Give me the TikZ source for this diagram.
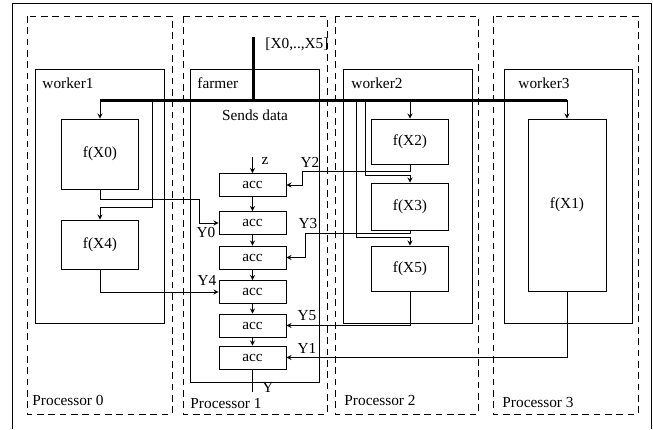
\documentclass[tikz,border=0pt]{standalone}
\usepackage{fontspec}
\setmainfont{Liberation Serif}
\usetikzlibrary{arrows.meta}
\tikzset{>=stealth}

\begin{document}
\begin{tikzpicture}[x=0.75pt,y=-0.75pt,line width=0.7pt,font=\fontsize{11.5}{14}\selectfont,
	proc/.style={dash pattern=on 5pt off 3.5pt,line width=0.6pt},
	fbox/.style={draw,minimum width=57.75pt,inner sep=0pt},
	accbox/.style={draw,minimum width=50.25pt,minimum height=17.25pt,inner sep=0pt},
	bus/.style={line width=2.25pt},
	lbl/.style={anchor=base west,inner sep=0pt}]
		\useasboundingbox (0,0) rectangle (653,429);
		\draw (12,429)--(12,3)--(651,3)--(651,429);
		\foreach \a/\b/\l/\y/\n in {27/172/32/405/0,183/327/190/408/1,335/478/344/405/2,493/638/502/407/3}
		{
			\draw[proc] (\a,16) rectangle (\b,414);
			\node[lbl] (p\n) at (\l,\y) {Processor \n};
		}
		\draw (35,69) rectangle (164,323);
		\draw (190,69) rectangle (319,382);
		\draw (343,69) rectangle (472,323);
		\draw (504,69) rectangle (632,323);
		\node[lbl] (w1) at (42,88) {worker1};
		\node[lbl] (fa) at (197,88) {farmer};
		\node[lbl] (w2) at (351,88) {worker2};
		\node[lbl] (w3) at (518,88) {worker3};
		\node (send) at (255,115) {Sends data};
		\node[fbox,minimum height=52.5pt] (f0) at (100,154) {f(X0)};
		\node[fbox,minimum height=36.75pt] (f4) at (100,244.5) {f(X4)};
		\node[fbox,minimum height=33.75pt] (f2) at (410,141.5) {f(X2)};
		\node[fbox,minimum height=35.25pt] (f3) at (410,206.5) {f(X3)};
		\node[fbox,minimum height=33.75pt] (f5) at (410,268.5) {f(X5)};
		\node[fbox,minimum width=58.5pt,minimum height=129pt] (f1) at (567,205) {f(X1)};
		\foreach \i/\y in {1/185,2/223,3/257.5,4/292,5/325.5,6/357.5}
		\node[accbox] (acc\i) at (252.5,\y) {acc};
		\foreach \i/\j in {1/2,2/3,3/4,4/5,5/6}
		\draw[->] (acc\i) -- (acc\j);
		\coordinate (in) at (253,37);
		\coordinate (bl) at (100,100);
		\coordinate (br) at (567,100);
		\coordinate (b0) at (152,100);
		\coordinate (b2) at (410,100);
		\coordinate (b3) at (365,100);
		\coordinate (b5) at (356,100);
		\coordinate (zin) at (252.5,157);
		\coordinate (yout) at (252.5,392);
		\draw[bus] (in) -- (in |- bl);
		\draw[bus] (bl) -- (br);
		\node (xs) at (297,44) {[X0,..,X5]};
		\draw[->] (bl) -- (f0.north);
		\draw[->] (b2) -- (f2.north);
		\draw[->] (br) -- (f1.north);
		\draw[->] (b0) |- ([yshift=9pt]f4.north) -- (f4.north);
		\draw[->] (b3) |- ([yshift=5.25pt]f3.north) -- (f3.north);
		\draw[->] (b5) |- ([yshift=6pt]f5.north) -- (f5.north);
		\draw[->] (zin) -- (acc1.north);
		\node (z) at (265,161) {z};
		\draw (acc6.south) -- (yout);
		\node (y) at (268,387) {Y};
		\draw[->] (f0.south) -- ++(0,10) -| ([xshift=-14.25pt]acc2.west) -- (acc2.west);
		\draw[->] (f4.south) |- (acc4.west);
		\draw[->] (f2.south) -- ++(0,7) -| ([xshift=12pt]acc1.east) -- (acc1.east);
		\draw[->] (f3.south) -- ++(0,3) -| ([xshift=14.25pt]acc3.east) -- (acc3.east);
		\draw[->] (f5.south) |- (acc5.east);
		\draw[->] (f1.south) |- (acc6.east);
		\node (y0) at (206,232) {Y0};
		\node (y4) at (207,280) {Y4};
		\node (y2) at (310,162) {Y2};
		\node (y3) at (308,223) {Y3};
		\node (y5) at (307,316) {Y5};
		\node (y1) at (307,348) {Y1};
	\end{tikzpicture}
\end{document}
